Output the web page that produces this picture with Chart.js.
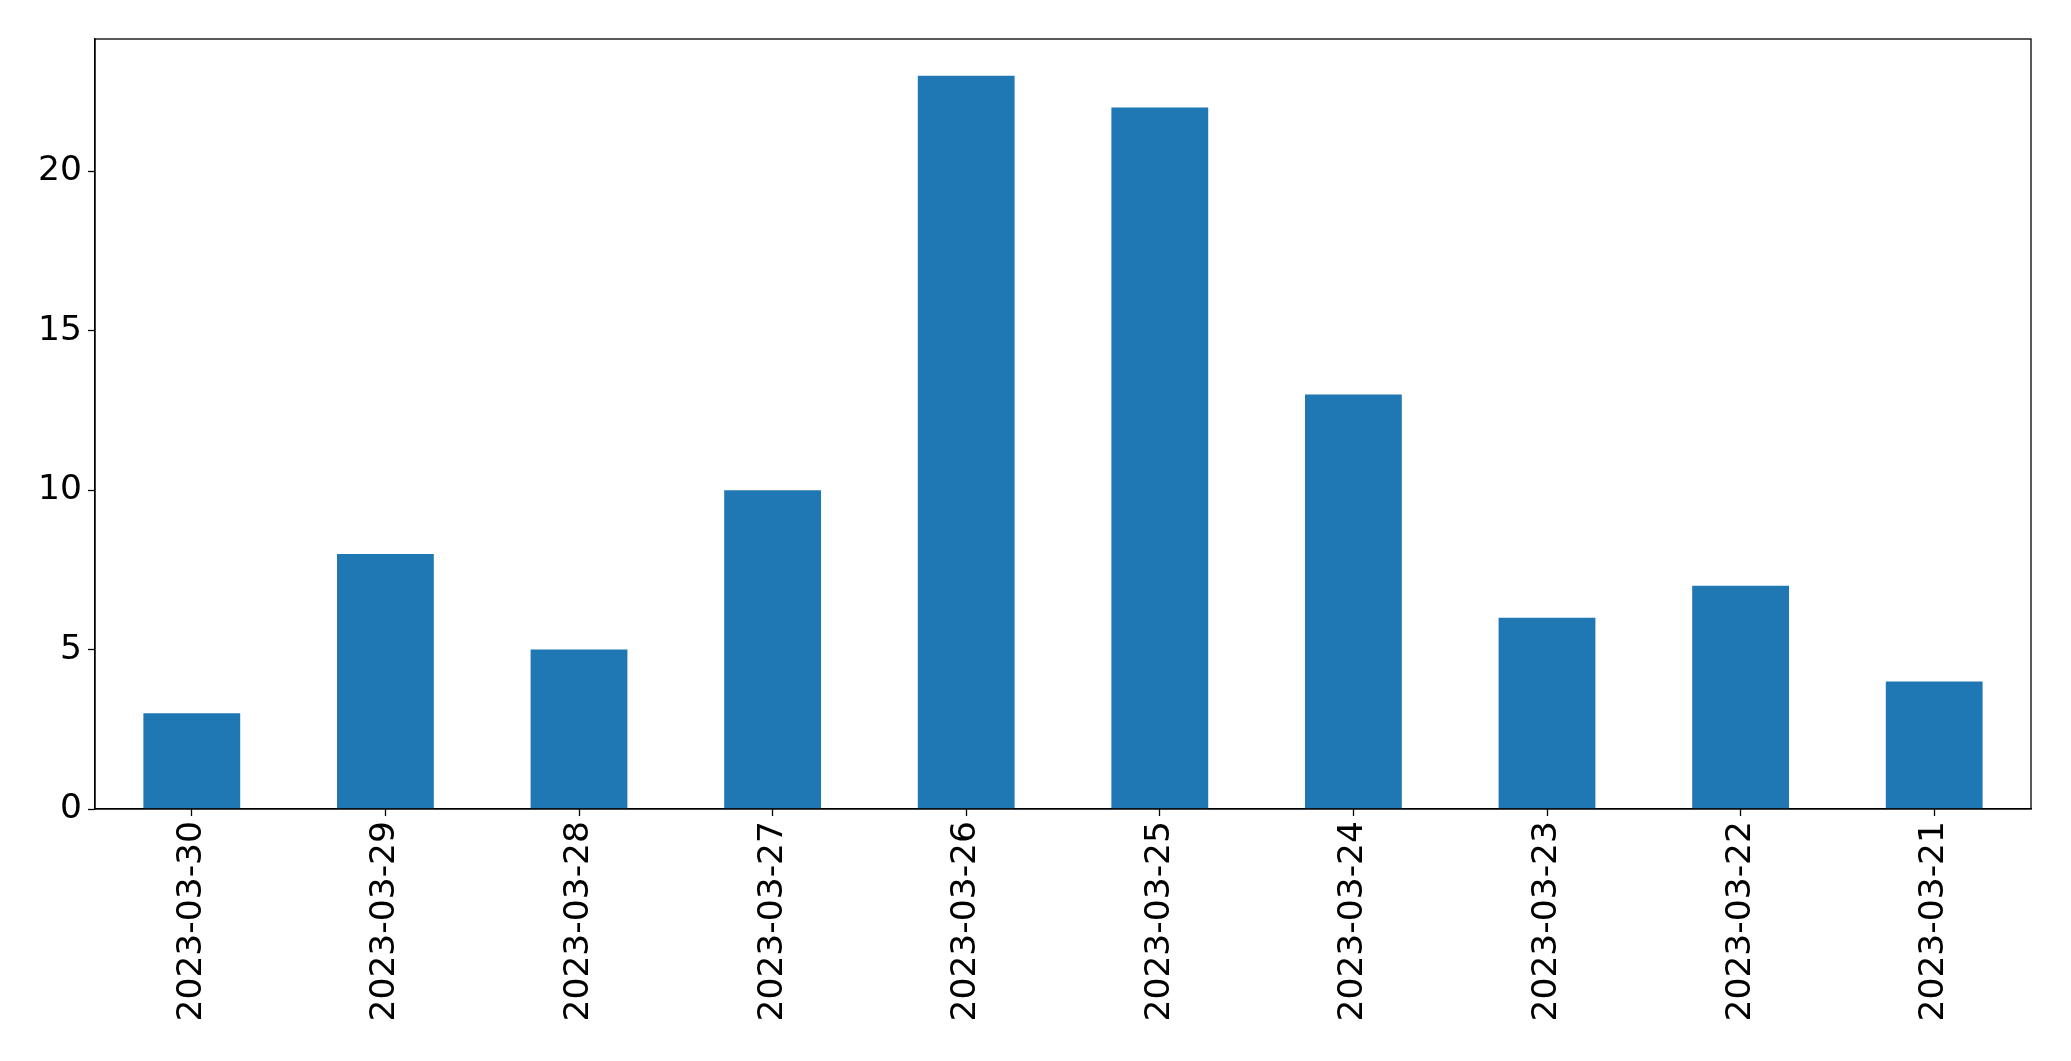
<!DOCTYPE html>
<html lang="en">
<head>
    <meta charset="UTF-8">
    <title>Daily counts</title>
    <script src="https://cdn.jsdelivr.net/npm/chart.js"></script>
    <style>
        html, body { margin: 0; padding: 0; background: #fff; }
        #wrap { width: 2071px; height: 1061px; }
    </style>
</head>
<body>
<div id="wrap"><canvas id="barChart"></canvas></div>

<script>
    const dates = ['2023-03-30', '2023-03-29', '2023-03-28', '2023-03-27', '2023-03-26',
                   '2023-03-25', '2023-03-24', '2023-03-23', '2023-03-22', '2023-03-21'];
    const counts = [3, 8, 5, 10, 23, 22, 13, 6, 7, 4];
    const yTicks = [0, 5, 10, 15, 20];

    // box around the plot area, like matplotlib spines
    const frame = {
        id: 'frame',
        afterDraw(chart) {
            const a = chart.chartArea, ctx = chart.ctx;
            ctx.save();
            ctx.strokeStyle = '#000';
            ctx.lineWidth = 1.3;
            ctx.strokeRect(a.left, a.top, a.right - a.left, a.bottom - a.top);
            ctx.restore();
        }
    };

    const font = { family: 'DejaVu Sans', size: 34.5 };

    new Chart(document.getElementById('barChart'), {
        type: 'bar',
        data: {
            labels: dates,
            datasets: [{
                data: counts,
                backgroundColor: '#1f77b4',
                borderWidth: 0,
                categoryPercentage: 0.5,
                barPercentage: 1.0
            }]
        },
        options: {
            responsive: true,
            maintainAspectRatio: false,
            animation: false,
            layout: { padding: { left: 0, top: 39, right: 40, bottom: 0 } },
            plugins: { legend: { display: false }, tooltip: { enabled: false } },
            scales: {
                x: {
                    grid: { offset: false, drawOnChartArea: false, tickLength: 7, tickColor: '#000', tickWidth: 1.3 },
                    border: { color: '#000', width: 1.3 },
                    ticks: { color: '#000', font: font, minRotation: 90, maxRotation: 90, padding: 5 },
                    afterFit(scale) { scale.height = 252; }
                },
                y: {
                    min: 0,
                    max: 24.15,
                    grid: { drawOnChartArea: false, tickLength: 7, tickColor: '#000', tickWidth: 1.3 },
                    border: { color: '#000', width: 1.3 },
                    ticks: { color: '#000', font: font, padding: 6 },
                    afterBuildTicks(scale) {
                        scale.ticks = yTicks.map(v => ({ value: v }));
                    },
                    afterFit(scale) { scale.width = 95; }
                }
            }
        },
        plugins: [frame]
    });
</script>
</body>
</html>
